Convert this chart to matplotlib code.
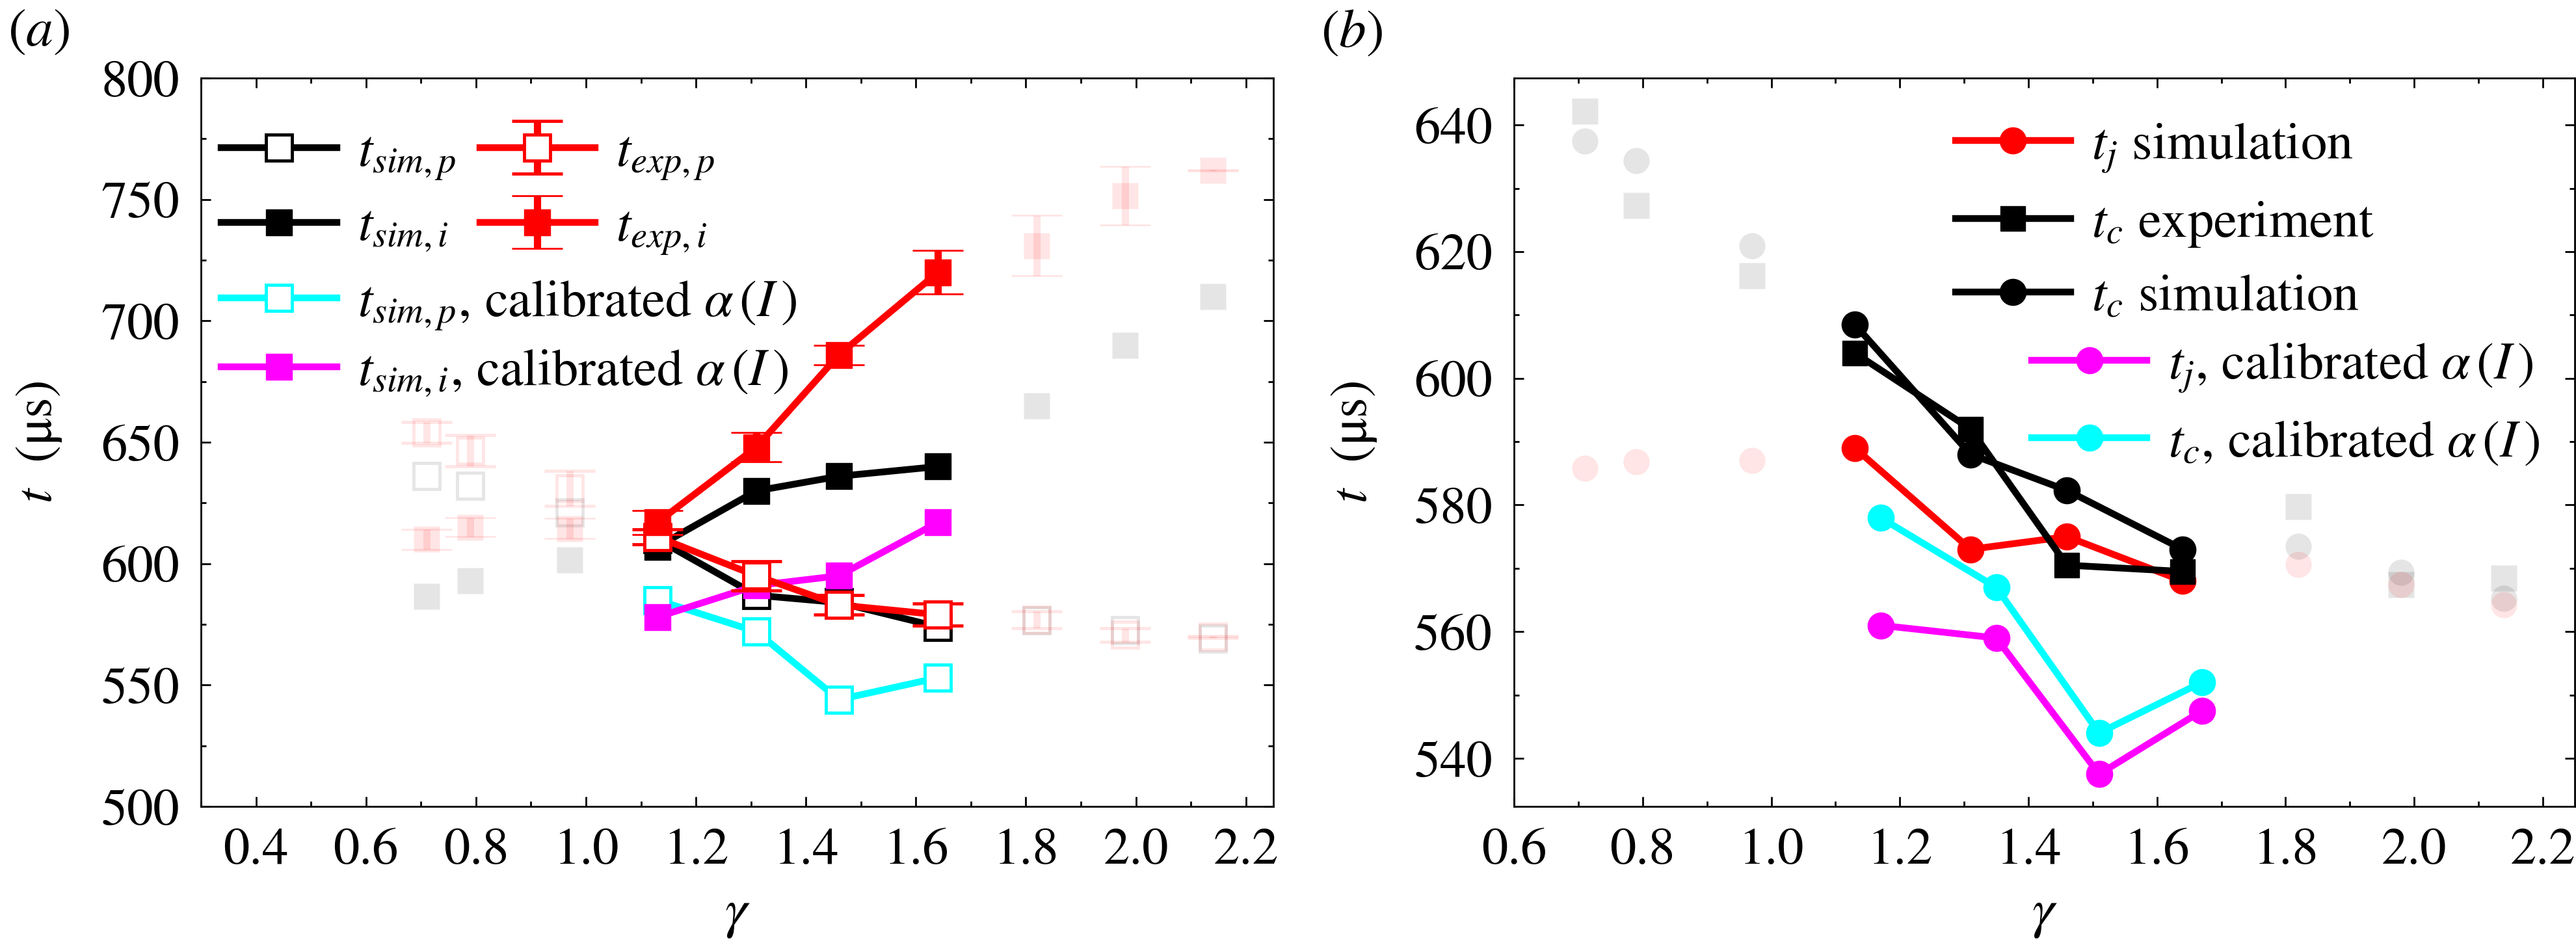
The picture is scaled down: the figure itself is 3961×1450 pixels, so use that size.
"""Breakup times vs gamma: (a) sim/exp pinch times, (b) jet / collapse times."""
import matplotlib
matplotlib.use('Agg')
import matplotlib.pyplot as plt
from matplotlib.ticker import MultipleLocator

plt.rcParams.update({
    'font.family': ['STIXGeneral', 'Liberation Serif', 'DejaVu Serif'],
    'mathtext.fontset': 'stix',
    'font.size': 56,
    'axes.linewidth': 2,
})

FADE = 0.1

# ---------------- panel (a) ----------------
g_main = [1.13, 1.31, 1.46, 1.64]
g_lo = [0.71, 0.79, 0.97]
g_hi = [1.82, 1.98, 2.14]

sim_p = [610, 587, 584, 574]
sim_i = [607, 630, 636, 640]
exp_p = [611, 595, 583, 579]
exp_p_err = [3, 6, 4, 4.5]
exp_i = [617, 648, 686, 720]
exp_i_err = [5, 6, 4, 9]
cal_sim_p = [585, 572, 544, 553]
cal_sim_i = [578, 591, 595, 617]

# faded points outside the calibrated range
fade_sim_p = [636, 632, 621, 576.5, 572.5, 569]
fade_sim_i = [586.5, 593, 601.5, 665, 690, 710]
fade_exp_p = [654, 646.5, 631, 577, 570.7, 569.8]
fade_exp_p_err = [4.2, 6.4, 7.2, 3.5, 2.8, 0.3]
fade_exp_i = [610, 615, 614.5, 731, 751.5, 762]
fade_exp_i_err = [4.1, 3.9, 4.1, 12.4, 12, 0.3]

# ---------------- panel (b) ----------------
tj_sim = [589, 573, 575, 568]
tc_exp = [604, 592, 570.5, 569.5]
tc_sim = [608.5, 588, 582.3, 573]
g_cal = [1.17, 1.35, 1.51, 1.67]
tj_cal = [561, 559, 537.5, 547.5]
tc_cal = [578, 567, 544, 552]

fade_tj_sim = [585.8, 586.8, 587.0, 570.6, 567.4, 564.2]
fade_tc_exp = [642.2, 627.3, 616.2, 579.7, 567.4, 568.4]
fade_tc_sim = [637.4, 634.4, 620.9, 573.5, 569.4, 565.3]

RED, CYAN, MAG = '#ff0000', '#00ffff', '#ff00ff'
LW, MS, MEW = 7.5, 29, 3.5
CAP, ELW = 28, 8

fig = plt.figure(figsize=(39.62, 14.5), dpi=100)
ax1 = fig.add_axes([0.078, 0.1448, 0.4162, 0.7724])
ax2 = fig.add_axes([0.5876, 0.1448, 0.4117, 0.7724])

g_fade = g_lo + g_hi

# faded background markers, panel (a)
ax1.plot(g_fade, fade_sim_i, 's', ms=MS, color='k', mec='none', alpha=FADE, ls='none')
ax1.plot(g_fade, fade_sim_p, 's', ms=MS, mfc='none', mec='k', mew=MEW, alpha=FADE, ls='none')
ax1.errorbar(g_fade, fade_exp_i, yerr=fade_exp_i_err, fmt='s', ms=MS, color=RED, mec='none',
             elinewidth=ELW, capsize=CAP, capthick=2, alpha=FADE)
ax1.errorbar(g_fade, fade_exp_p, yerr=fade_exp_p_err, fmt='s', ms=MS, mfc='none', mec=RED,
             mew=MEW, color=RED, elinewidth=ELW, capsize=CAP, capthick=2, alpha=FADE)

h_sp, = ax1.plot(g_main, sim_p, '-s', color='k', lw=LW, ms=MS, mfc='white', mec='k', mew=MEW)
h_si, = ax1.plot(g_main, sim_i, '-s', color='k', lw=LW, ms=MS)
h_cp, = ax1.plot(g_main, cal_sim_p, '-s', color=CYAN, lw=LW, ms=MS, mfc='white', mec=CYAN, mew=MEW)
h_ci, = ax1.plot(g_main, cal_sim_i, '-s', color=MAG, lw=LW, ms=MS)
h_ep = ax1.errorbar(g_main, exp_p, yerr=exp_p_err, fmt='-s', color=RED, lw=LW, ms=MS,
                    mfc='white', mec=RED, mew=MEW, elinewidth=ELW, capsize=CAP, capthick=2)
h_ei = ax1.errorbar(g_main, exp_i, yerr=exp_i_err, fmt='-s', color=RED, lw=LW, ms=MS,
                    elinewidth=ELW, capsize=CAP, capthick=2)

ax1.set_xlim(0.3, 2.25)
ax1.set_ylim(500, 800)
ax1.xaxis.set_major_locator(MultipleLocator(0.2))
ax1.xaxis.set_minor_locator(MultipleLocator(0.1))
ax1.yaxis.set_major_locator(MultipleLocator(50))
ax1.yaxis.set_minor_locator(MultipleLocator(25))
ax1.set_xticks([0.4, 0.6, 0.8, 1.0, 1.2, 1.4, 1.6, 1.8, 2.0, 2.2])

leg_kw = dict(frameon=False, loc='upper left', borderpad=0, borderaxespad=0,
              handlelength=2.2, handletextpad=0.4, numpoints=1, fontsize=58)
leg1 = ax1.legend([h_sp, h_si, h_ep, h_ei],
                  [r'$t_{sim,p}$', r'$t_{sim,i}$', r'$t_{exp,p}$', r'$t_{exp,i}$'],
                  ncol=2, columnspacing=0.45, labelspacing=0.42,
                  bbox_to_anchor=(0.019, 0.93), **leg_kw)
ax1.add_artist(leg1)
ax1.legend([h_cp, h_ci],
           [r'$t_{sim,p}$, calibrated $\alpha\,(I\,)$', r'$t_{sim,i}$, calibrated $\alpha\,(I\,)$'],
           labelspacing=0.3, bbox_to_anchor=(0.019, 0.724), **leg_kw)

# ---------------- panel (b) drawing ----------------
ax2.plot(g_fade, fade_tc_exp, 's', ms=MS, color='k', mec='none', alpha=FADE, ls='none')
ax2.plot(g_fade, fade_tc_sim, 'o', ms=MS, color='k', mec='none', alpha=FADE, ls='none')
ax2.plot(g_fade, fade_tj_sim, 'o', ms=MS, color=RED, mec='none', alpha=FADE, ls='none')

h_tj, = ax2.plot(g_main, tj_sim, '-o', color=RED, lw=LW, ms=MS)
h_tce, = ax2.plot(g_main, tc_exp, '-s', color='k', lw=LW, ms=MS - 1)
h_tcs, = ax2.plot(g_main, tc_sim, '-o', color='k', lw=LW, ms=MS)
h_tjc, = ax2.plot(g_cal, tj_cal, '-o', color=MAG, lw=LW, ms=MS)
h_tcc, = ax2.plot(g_cal, tc_cal, '-o', color=CYAN, lw=LW, ms=MS)

ax2.set_xlim(0.6, 2.25)
ax2.set_ylim(532.4, 647.4)
ax2.xaxis.set_major_locator(MultipleLocator(0.2))
ax2.xaxis.set_minor_locator(MultipleLocator(0.1))
ax2.yaxis.set_major_locator(MultipleLocator(20))
ax2.yaxis.set_minor_locator(MultipleLocator(10))
ax2.set_xticks([0.6, 0.8, 1.0, 1.2, 1.4, 1.6, 1.8, 2.0, 2.2])

leg3 = ax2.legend([h_tj, h_tce, h_tcs],
                  [r'$t_j$ simulation', r'$t_c$ experiment', r'$t_c$ simulation'],
                  labelspacing=0.47, bbox_to_anchor=(0.416, 0.94), **leg_kw)
ax2.add_artist(leg3)
ax2.legend([h_tjc, h_tcc],
           [r'$t_j$, calibrated $\alpha\,(I\,)$', r'$t_c$, calibrated $\alpha\,(I\,)$'],
           labelspacing=0.47, bbox_to_anchor=(0.488, 0.638), **leg_kw)

for ax in (ax1, ax2):
    ax.tick_params(which='both', direction='in', top=True, right=True, width=2, pad=24,
                   labelsize=58)
    ax.tick_params(which='major', length=11)
    ax.tick_params(which='minor', length=6)
    ax.set_xticklabels([f"{t:.1f}" for t in ax.get_xticks()])
    ax.set_xlabel(r'$\gamma$', fontsize=62)
    ax.xaxis.set_label_coords(0.5, -0.148)
    ax.xaxis.label.set_va('center')
    ax.set_ylabel(r'$t$  ($\mathrm{\mu}$s)', fontsize=58)
    ax.yaxis.set_label_coords(-0.151, 0.5)
    ax.yaxis.label.set_va('center')

fig.text(0.003, 0.99, r'$(a)$', fontsize=60, va='top', ha='left')
fig.text(0.5126, 0.99, r'$(b)$', fontsize=60, va='top', ha='left')

fig.savefig('out.png', dpi=100)
plt.close()
